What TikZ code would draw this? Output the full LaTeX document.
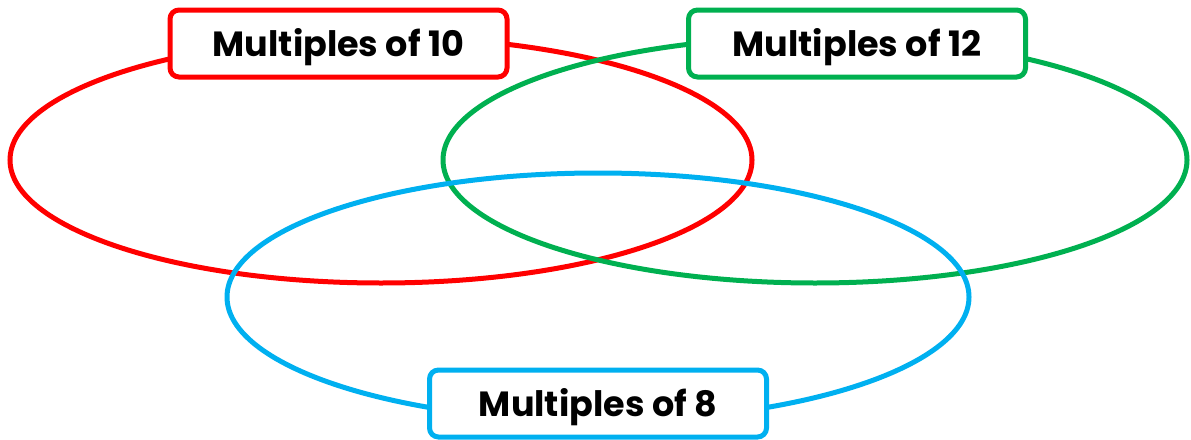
\documentclass[tikz,border=0pt]{standalone}
\usepackage{fontspec}
\setmainfont{Poppins}[BoldFont={* Bold}]
\definecolor{vred}{HTML}{FF0000}
\definecolor{vgreen}{HTML}{00B050}
\definecolor{vblue}{HTML}{00B0F0}
\tikzset{
  setring/.style={line width=5pt},
  setlabel/.style={draw, line width=5pt, fill=white, rounded corners=9pt,
    minimum width=337pt, minimum height=67pt, inner sep=0pt,
    text height=26pt, text depth=0pt,
    font=\bfseries\fontsize{35}{40}\selectfont, text=black}
}
\begin{document}
\begin{tikzpicture}[x=1pt,y=-1pt]
\useasboundingbox (0,0) rectangle (1191,439);
\draw[setring, vred] (381,160) ellipse [x radius=371, y radius=123];
\draw[setring, vgreen] (815,160) ellipse [x radius=372, y radius=123];
\draw[setring, vblue] (598,297) ellipse [x radius=371, y radius=124];
\node[setlabel, draw=vred] (ten) at (338.5,43.5) {Multiples of 10};
\node[setlabel, draw=vgreen] (twelve) at (857,43.5) {Multiples of 12};
\node[setlabel, draw=vblue] (eight) at (598,403.5) {Multiples of 8};
\end{tikzpicture}
\end{document}
